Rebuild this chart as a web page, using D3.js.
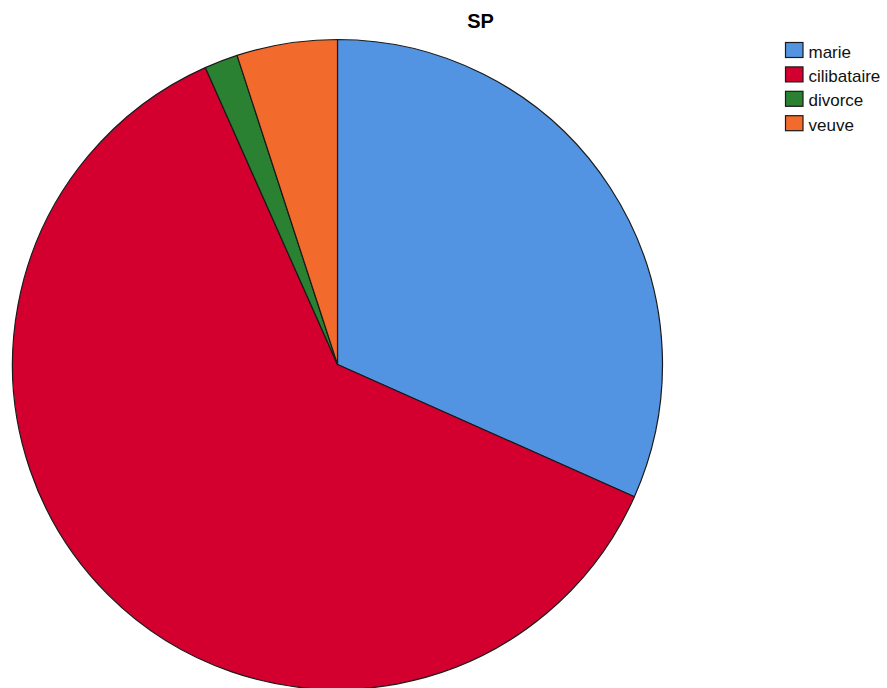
<!DOCTYPE html>
<html>
<head>
<meta charset="utf-8">
<script src="https://cdn.jsdelivr.net/npm/d3@7"></script>
<style>
	body { margin: 0; background: #fff; }
	text { font-family: "Liberation Sans", Arial, sans-serif; }
</style>
</head>
<body>
<div id="viz-holder"></div>
<script>
// valeurs (effectifs)
let categories = ['marie', 'cilibataire', 'divorce', 'veuve'];
let counts = [19, 37, 1, 3];
let colors = ['#5294E2', '#D3002F', '#2A8131', '#F36B2C'];

let width = 887;
let height = 688;
let cx = 337.5, cy = 364.5, radius = 325;

let svg = d3.select('#viz-holder')
	.append('svg')
	.attr('width', width)
	.attr('height', height);

svg.append('text')
	.attr('x', 480.5)
	.attr('y', 27.7)
	.attr('text-anchor', 'middle')
	.attr('font-size', 20)
	.attr('font-weight', 'bold')
	.text('SP');

let data = categories.map((c, i) => ({ cat: c, n: counts[i], color: colors[i] }));

let pie = d3.pie()
	.sort(null)
	.value(d => d.n);

let arc = d3.arc()
	.innerRadius(0)
	.outerRadius(radius);

svg.append('g')
	.attr('transform', 'translate(' + cx + ',' + cy + ')')
	.selectAll('path')
	.data(pie(data))
	.enter()
	.append('path')
	.attr('d', arc)
	.attr('fill', d => d.data.color)
	.attr('stroke', '#1a1a1a')
	.attr('stroke-width', 1.2)
	.attr('stroke-linejoin', 'round');

let legend = svg.append('g')
	.attr('transform', 'translate(785,42)');

let rows = legend.selectAll('g')
	.data(data)
	.enter()
	.append('g')
	.attr('transform', (d, i) => 'translate(0,' + (i * 24.4) + ')');

rows.append('rect')
	.attr('x', 0.5)
	.attr('y', 0.5)
	.attr('width', 17.5)
	.attr('height', 15)
	.attr('fill', d => d.color)
	.attr('stroke', '#1a1a1a')
	.attr('stroke-width', 1.2);

rows.append('text')
	.attr('x', 23.5)
	.attr('y', 15.5)
	.attr('font-size', 17)
	.attr('fill', '#111')
	.text(d => d.cat);
</script>
</body>
</html>
